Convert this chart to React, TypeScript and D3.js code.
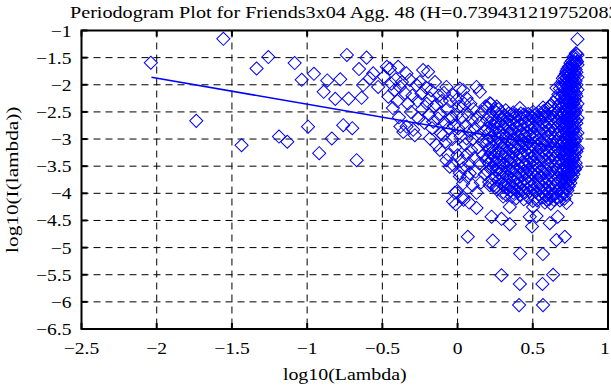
import * as d3 from 'd3'

const W = 611
const H = 385
const margin = { top: 30.5, right: 3, bottom: 56, left: 81.5 }

const title = 'Periodogram Plot for Friends3x04 Agg. 48 (H=0.739431219752083)'
const xLabel = 'log10(Lambda)'
const yLabel = 'log10(I(lambda))'
const xTicks = [-2.5, -2, -1.5, -1, -0.5, 0, 0.5, 1]
const yTicks = [-1, -1.5, -2, -2.5, -3, -3.5, -4, -4.5, -5, -5.5, -6, -6.5]

// least squares fit line (endpoints)
const fitLine: [number, number][] = [
  [-2.035, -1.862],
  [0.797, -3.218],
]

// low frequencies, read one by one
const sparsePoints: [number, number][] = [
  [-2.039, -1.594], [-1.737, -2.665], [-1.557, -1.153], [-1.436, -3.114],
  [-1.336, -1.7], [-1.258, -1.49], [-1.187, -2.955], [-1.132, -3.05],
  [-1.083, -1.6], [-1.036, -1.908], [-0.994, -2.772], [-0.955, -1.798],
  [-0.92, -3.26], [-0.89, -2.13], [-0.866, -1.92], [-0.836, -2.99],
  [-0.813, -2.26], [-0.78, -1.9], [-0.76, -2.745], [-0.736, -1.45],
  [-0.724, -2.255], [-0.7, -2.8], [-0.671, -3.39], [-0.655, -1.71],
  [-0.638, -2.24], [-0.628, -2.005], [-0.605, -1.5], [-0.583, -1.88],
  [-0.561, -1.79], [-0.528, -2.04],
]

// middle band, -0.5 .. 0.2
const midPoints: [number, number][] = [
  [-0.49, -1.85], [-0.47, -1.67], [-0.46, -2.22], [-0.45, -1.7], [-0.44, -1.98],
  [-0.43, -2.43], [-0.42, -2.1], [-0.41, -1.9], [-0.4, -2.3], [-0.395, -1.67],
  [-0.39, -2.6], [-0.384, -2.04], [-0.38, -2.77], [-0.37, -1.95], [-0.361, -2.87],
  [-0.35, -2.15], [-0.34, -1.79], [-0.339, -2.77], [-0.33, -2.35], [-0.317, -1.91],
  [-0.31, -2.5], [-0.3, -2.2], [-0.295, -2.83], [-0.284, -2.93], [-0.273, -2.005],
  [-0.265, -2.3], [-0.26, -2.62], [-0.25, -1.95], [-0.24, -2.16], [-0.235, -2.45],
  [-0.229, -1.73], [-0.22, -2.7], [-0.21, -2.05], [-0.205, -2.35], [-0.196, -1.76],
  [-0.19, -2.55], [-0.184, -2.25], [-0.184, -2.99], [-0.175, -2.1], [-0.17, -2.8],
  [-0.162, -2.68], [-0.155, -2.4], [-0.15, -1.95], [-0.14, -2.37], [-0.14, -3.11],
  [-0.13, -2.62], [-0.125, -2.2], [-0.118, -2.53], [-0.118, -3.2], [-0.11, -2.9],
  [-0.105, -2.3], [-0.096, -2.93], [-0.09, -2.15], [-0.085, -2.7], [-0.08, -3.05],
  [-0.074, -2.04], [-0.074, -3.39], [-0.07, -2.45], [-0.063, -3.29], [-0.06, -2.8],
  [-0.052, -3.51], [-0.05, -2.3], [-0.045, -2.62], [-0.04, -2.59], [-0.035, -3.0],
  [-0.03, -2.19], [-0.03, -3.48], [-0.03, -4.15], [-0.025, -2.75], [-0.018, -3.99],
  [-0.015, -3.15], [-0.012, -4.2], [-0.007, -2.28], [-0.007, -3.97], [-0.005, -2.55],
  [0.0, -3.3], [0.004, -2.8], [0.01, -2.4], [0.015, -2.07], [0.015, -3.63],
  [0.015, -3.69], [0.02, -2.95], [0.025, -3.4], [0.03, -2.6], [0.037, -2.1],
  [0.037, -3.54], [0.037, -3.82], [0.037, -4.07], [0.04, -4.12], [0.045, -2.35],
  [0.05, -3.1], [0.055, -2.75], [0.06, -2.25], [0.06, -2.99], [0.06, -3.29],
  [0.065, -3.7], [0.068, -4.8], [0.07, -2.55], [0.075, -3.45], [0.077, -4.17],
  [0.08, -2.85], [0.081, -3.63], [0.085, -2.35], [0.09, -3.2], [0.095, -2.65],
  [0.1, -3.0], [0.1, -3.85], [0.105, -2.45], [0.11, -3.35], [0.115, -2.8],
  [0.12, -3.6], [0.126, -2.04], [0.126, -3.99], [0.126, -4.27], [0.13, -2.6],
  [0.135, -3.15], [0.14, -2.95], [0.145, -3.45], [0.148, -2.13], [0.15, -2.7],
  [0.155, -3.8], [0.16, -2.5], [0.165, -3.05], [0.17, -3.3], [0.175, -2.85],
  [0.18, -3.65], [0.185, -2.4], [0.19, -3.1], [0.192, -3.39], [0.195, -2.65],
]

// lower outliers and edges of the cloud
const outlierPoints: [number, number][] = [
  [0.214, -3.85], [0.226, -4.43], [0.234, -4.87], [0.26, -3.88], [0.292, -4.47],
  [0.292, -5.51], [0.303, -4.06], [0.325, -4.03], [0.347, -4.25], [0.347, -4.57],
  [0.409, -6.06], [0.414, -2.43], [0.414, -5.67], [0.416, -5.11], [0.48, -4.43],
  [0.495, -4.61], [0.502, -2.5], [0.502, -4.25], [0.525, -4.42], [0.564, -5.67],
  [0.567, -5.12], [0.568, -6.06], [0.568, -2.42], [0.591, -4.12], [0.613, -2.4],
  [0.613, -4.55], [0.635, -5.5], [0.657, -2.06], [0.657, -4.86], [0.666, -4.43],
  [0.701, -4.0], [0.713, -4.8], [0.724, -4.18], [0.214, -2.34], [0.26, -2.4],
  [0.786, -1.42], [0.797, -1.16], [0.794, -1.57], [0.7, -1.88], [0.724, -1.75],
]

// dense part of the cloud, column by column
const denseColumns: [number, number[]][] = [
  [0.2, [-2.42, -2.81, -3.02, -3.34, -3.6]],
  [0.21, [-2.57, -2.88, -3.2, -3.45, -3.79]],
  [0.22, [-2.35, -2.7, -2.97, -3.27, -3.55]],
  [0.23, [-2.63, -2.83, -3.14, -3.38, -3.73]],
  [0.24, [-2.46, -2.75, -3.0, -3.31, -3.52, -3.85]],
  [0.25, [-2.68, -2.91, -3.23, -3.46, -3.7]],
  [0.26, [-2.51, -2.8, -3.06, -3.37, -3.6, -3.93]],
  [0.27, [-2.45, -2.7, -2.99, -3.24, -3.55, -3.76]],
  [0.28, [-2.57, -2.88, -3.12, -3.43, -3.64]],
  [0.29, [-2.5, -2.73, -3.05, -3.28, -3.58, -3.82]],
  [0.3, [-2.62, -2.94, -3.17, -3.47, -3.7, -3.99]],
  [0.31, [-2.56, -2.79, -3.1, -3.33, -3.63, -3.86]],
  [0.32, [-2.47, -2.72, -2.96, -3.26, -3.5, -3.81]],
  [0.33, [-2.61, -2.85, -3.15, -3.4, -3.69, -3.92]],
  [0.34, [-2.53, -2.78, -3.02, -3.32, -3.57, -3.84]],
  [0.35, [-2.65, -2.89, -3.19, -3.43, -3.71, -3.95]],
  [0.36, [-2.55, -2.83, -3.06, -3.35, -3.59, -3.88, -4.06]],
  [0.37, [-2.51, -2.73, -3.01, -3.25, -3.54, -3.78, -3.99]],
  [0.38, [-2.6, -2.87, -3.14, -3.41, -3.65, -3.93]],
  [0.39, [-2.56, -2.79, -3.07, -3.3, -3.58, -3.83, -4.09]],
  [0.4, [-2.66, -2.94, -3.19, -3.46, -3.72, -3.96]],
  [0.41, [-2.57, -2.85, -3.11, -3.36, -3.64, -3.9]],
  [0.42, [-2.53, -2.75, -3.03, -3.29, -3.53, -3.81, -4.03]],
  [0.43, [-2.62, -2.9, -3.15, -3.43, -3.67, -3.94]],
  [0.44, [-2.55, -2.82, -3.08, -3.32, -3.6, -3.85, -4.11]],
  [0.45, [-2.69, -2.93, -3.22, -3.46, -3.74, -3.98]],
  [0.46, [-2.59, -2.86, -3.1, -3.39, -3.63, -3.91]],
  [0.47, [-2.54, -2.77, -3.05, -3.29, -3.57, -3.81, -4.07]],
  [0.48, [-2.64, -2.92, -3.16, -3.44, -3.68, -3.96]],
  [0.49, [-2.58, -2.82, -3.1, -3.34, -3.62, -3.86]],
  [0.5, [-2.61, -2.89, -3.13, -3.41, -3.65, -3.93, -4.14]],
  [0.51, [-2.56, -2.79, -3.07, -3.31, -3.59, -3.83]],
  [0.52, [-2.65, -2.93, -3.17, -3.45, -3.69, -3.97]],
  [0.53, [-2.59, -2.83, -3.11, -3.35, -3.63, -3.87, -4.13]],
  [0.54, [-2.5, -2.77, -3.01, -3.29, -3.53, -3.81, -4.02]],
  [0.55, [-2.64, -2.88, -3.16, -3.4, -3.68, -3.92]],
  [0.56, [-2.55, -2.82, -3.06, -3.34, -3.58, -3.86, -4.08]],
  [0.57, [-2.49, -2.72, -3.0, -3.24, -3.52, -3.76, -4.01]],
  [0.58, [-2.59, -2.87, -3.11, -3.39, -3.63, -3.91, -4.17]],
  [0.59, [-2.53, -2.77, -3.05, -3.29, -3.57, -3.81, -4.05]],
  [0.6, [-2.44, -2.71, -2.95, -3.23, -3.47, -3.75, -3.98]],
  [0.61, [-2.58, -2.82, -3.1, -3.34, -3.62, -3.86, -4.11]],
  [0.62, [-2.37, -2.65, -2.89, -3.17, -3.41, -3.69, -3.93, -4.19]],
  [0.63, [-2.51, -2.75, -3.03, -3.27, -3.55, -3.79, -4.04]],
  [0.64, [-2.32, -2.6, -2.84, -3.12, -3.36, -3.64, -3.88, -4.12]],
  [0.65, [-2.46, -2.7, -2.98, -3.22, -3.5, -3.74, -4.01]],
  [0.66, [-2.25, -2.53, -2.77, -3.05, -3.29, -3.57, -3.81, -4.09]],
  [0.67, [-2.18, -2.39, -2.67, -2.91, -3.19, -3.43, -3.71, -3.95]],
  [0.68, [-2.07, -2.34, -2.58, -2.86, -3.1, -3.38, -3.62, -3.9, -4.13]],
  [0.69, [-2.01, -2.23, -2.51, -2.75, -3.03, -3.27, -3.55, -3.79, -4.05]],
  [0.7, [-1.93, -2.16, -2.4, -2.68, -2.92, -3.2, -3.44, -3.72, -3.96]],
  [0.705, [-2.04, -2.29, -2.55, -2.8, -3.07, -3.33, -3.58, -3.84]],
  [0.71, [-1.84, -2.09, -2.32, -2.6, -2.84, -3.12, -3.36, -3.64, -3.88, -4.1]],
  [0.715, [-1.97, -2.21, -2.46, -2.72, -2.98, -3.25, -3.5, -3.77]],
  [0.72, [-1.79, -1.99, -2.25, -2.49, -2.77, -3.01, -3.29, -3.53, -3.81, -4.03]],
  [0.725, [-1.88, -2.12, -2.37, -2.63, -2.89, -3.16, -3.41, -3.67, -3.92]],
  [0.73, [-1.71, -1.94, -2.15, -2.42, -2.66, -2.94, -3.18, -3.46, -3.7, -3.95]],
  [0.735, [-1.82, -2.04, -2.29, -2.55, -2.81, -3.07, -3.33, -3.59, -3.84]],
  [0.74, [-1.67, -1.85, -2.09, -2.32, -2.6, -2.84, -3.12, -3.36, -3.64, -3.87]],
  [0.745, [-1.76, -1.97, -2.21, -2.46, -2.72, -2.98, -3.24, -3.5, -3.76]],
  [0.75, [-1.6, -1.81, -2.0, -2.26, -2.49, -2.77, -3.01, -3.29, -3.53, -3.81]],
  [0.755, [-1.7, -1.9, -2.13, -2.38, -2.64, -2.9, -3.16, -3.42, -3.68]],
  [0.76, [-1.56, -1.73, -1.96, -2.17, -2.43, -2.67, -2.95, -3.19, -3.47, -3.71]],
  [0.765, [-1.64, -1.84, -2.06, -2.3, -2.56, -2.82, -3.08, -3.34, -3.6]],
  [0.77, [-1.49, -1.69, -1.88, -2.12, -2.34, -2.61, -2.85, -3.13, -3.37, -3.65]],
  [0.775, [-1.58, -1.78, -1.99, -2.23, -2.48, -2.74, -3.0, -3.26, -3.52]],
  [0.78, [-1.47, -1.62, -1.84, -2.04, -2.29, -2.52, -2.8, -3.04, -3.32, -3.56]],
  [0.785, [-1.53, -1.72, -1.93, -2.16, -2.41, -2.66, -2.92, -3.18, -3.44]],
  [0.79, [-1.43, -1.59, -1.77, -2.0, -2.21, -2.47, -2.71, -2.99, -3.23, -3.51]],
  [0.797, [-1.45, -1.63, -1.86, -2.09, -2.35, -2.61, -2.89, -3.17]],
]

const allPoints: [number, number][] = [
  ...sparsePoints,
  ...midPoints,
  ...outlierPoints,
  ...denseColumns.flatMap(([x, ys]) => ys.map((y) => [x, y] as [number, number])),
]

const FONT = '"Liberation Serif", "Times New Roman", serif'

const Label = ({ x, y, anchor, size, sx, children }: any) => (
  <text
    transform={`translate(${x},${y}) scale(${sx},1)`}
    textAnchor={anchor}
    fontFamily={FONT}
    fontSize={size}
    fill="#000"
  >
    {children}
  </text>
)

export default function App() {
  const innerW = W - margin.left - margin.right
  const innerH = H - margin.top - margin.bottom

  const x = d3.scaleLinear().domain([-2.5, 1]).range([0, innerW])
  const y = d3.scaleLinear().domain([-6.5, -1]).range([innerH, 0])

  const fmt = d3.format('')
  const diamond = d3.symbol(d3.symbolSquare, 86)()
  const line = d3
    .line<[number, number]>()
    .x((d) => x(d[0]))
    .y((d) => y(d[1]))

  return (
    <svg
      width={W}
      height={H}
      style={{ position: 'absolute', left: 0, top: 0, background: '#fff' }}
    >
      <g transform={`translate(${margin.left},${margin.top})`}>
        {/* grid */}
        {xTicks.slice(1, -1).map((t) => (
          <line
            key={'gx' + t}
            x1={x(t)}
            x2={x(t)}
            y1={0}
            y2={innerH}
            stroke="#000"
            strokeWidth={1}
            strokeDasharray="7,5"
          />
        ))}
        {yTicks.slice(1, -1).map((t) => (
          <line
            key={'gy' + t}
            x1={0}
            x2={innerW}
            y1={y(t)}
            y2={y(t)}
            stroke="#000"
            strokeWidth={1}
            strokeDasharray="7,5"
          />
        ))}

        {/* points */}
        <g fill="none" stroke="#0000ff" strokeWidth={1}>
          {allPoints.map((d, i) => (
            <path
              key={i}
              d={diamond as string}
              transform={`translate(${x(d[0])},${y(d[1])}) rotate(45)`}
            />
          ))}
        </g>

        {/* fit */}
        <path d={line(fitLine) as string} fill="none" stroke="#0000ff" strokeWidth={1.6} />

        {/* ticks */}
        <g stroke="#000" strokeWidth={2}>
          {xTicks.map((t) => (
            <g key={'tx' + t}>
              <line x1={x(t)} x2={x(t)} y1={innerH} y2={innerH - 6} />
              <line x1={x(t)} x2={x(t)} y1={0} y2={6} />
            </g>
          ))}
          {yTicks.map((t) => (
            <g key={'ty' + t}>
              <line x1={0} x2={6} y1={y(t)} y2={y(t)} />
              <line x1={innerW} x2={innerW - 6} y1={y(t)} y2={y(t)} />
            </g>
          ))}
        </g>

        {/* frame */}
        <rect x={0} y={0} width={innerW} height={innerH} fill="none" stroke="#000" strokeWidth={2} />

        {xTicks.map((t) => (
          <Label
            key={'lx' + t}
            x={t === 1 ? x(t) - 3 : x(t)}
            y={innerH + 24.5}
            anchor="middle"
            size={17}
            sx={1.15}
          >
            {fmt(t)}
          </Label>
        ))}
        {yTicks.map((t) => (
          <Label key={'ly' + t} x={-10} y={y(t) + 6} anchor="end" size={17} sx={1.15}>
            {fmt(t)}
          </Label>
        ))}
      </g>

      <Label x={70} y={18} anchor="start" size={16} sx={1.26}>
        {title}
      </Label>
      <Label x={margin.left + innerW / 2} y={380} anchor="middle" size={17} sx={1.17}>
        {xLabel}
      </Label>
      <text
        transform={`translate(18,${margin.top + innerH / 2}) rotate(-90) scale(1.25,1)`}
        textAnchor="middle"
        fontFamily={FONT}
        fontSize={17}
      >
        {yLabel}
      </text>
    </svg>
  )
}
